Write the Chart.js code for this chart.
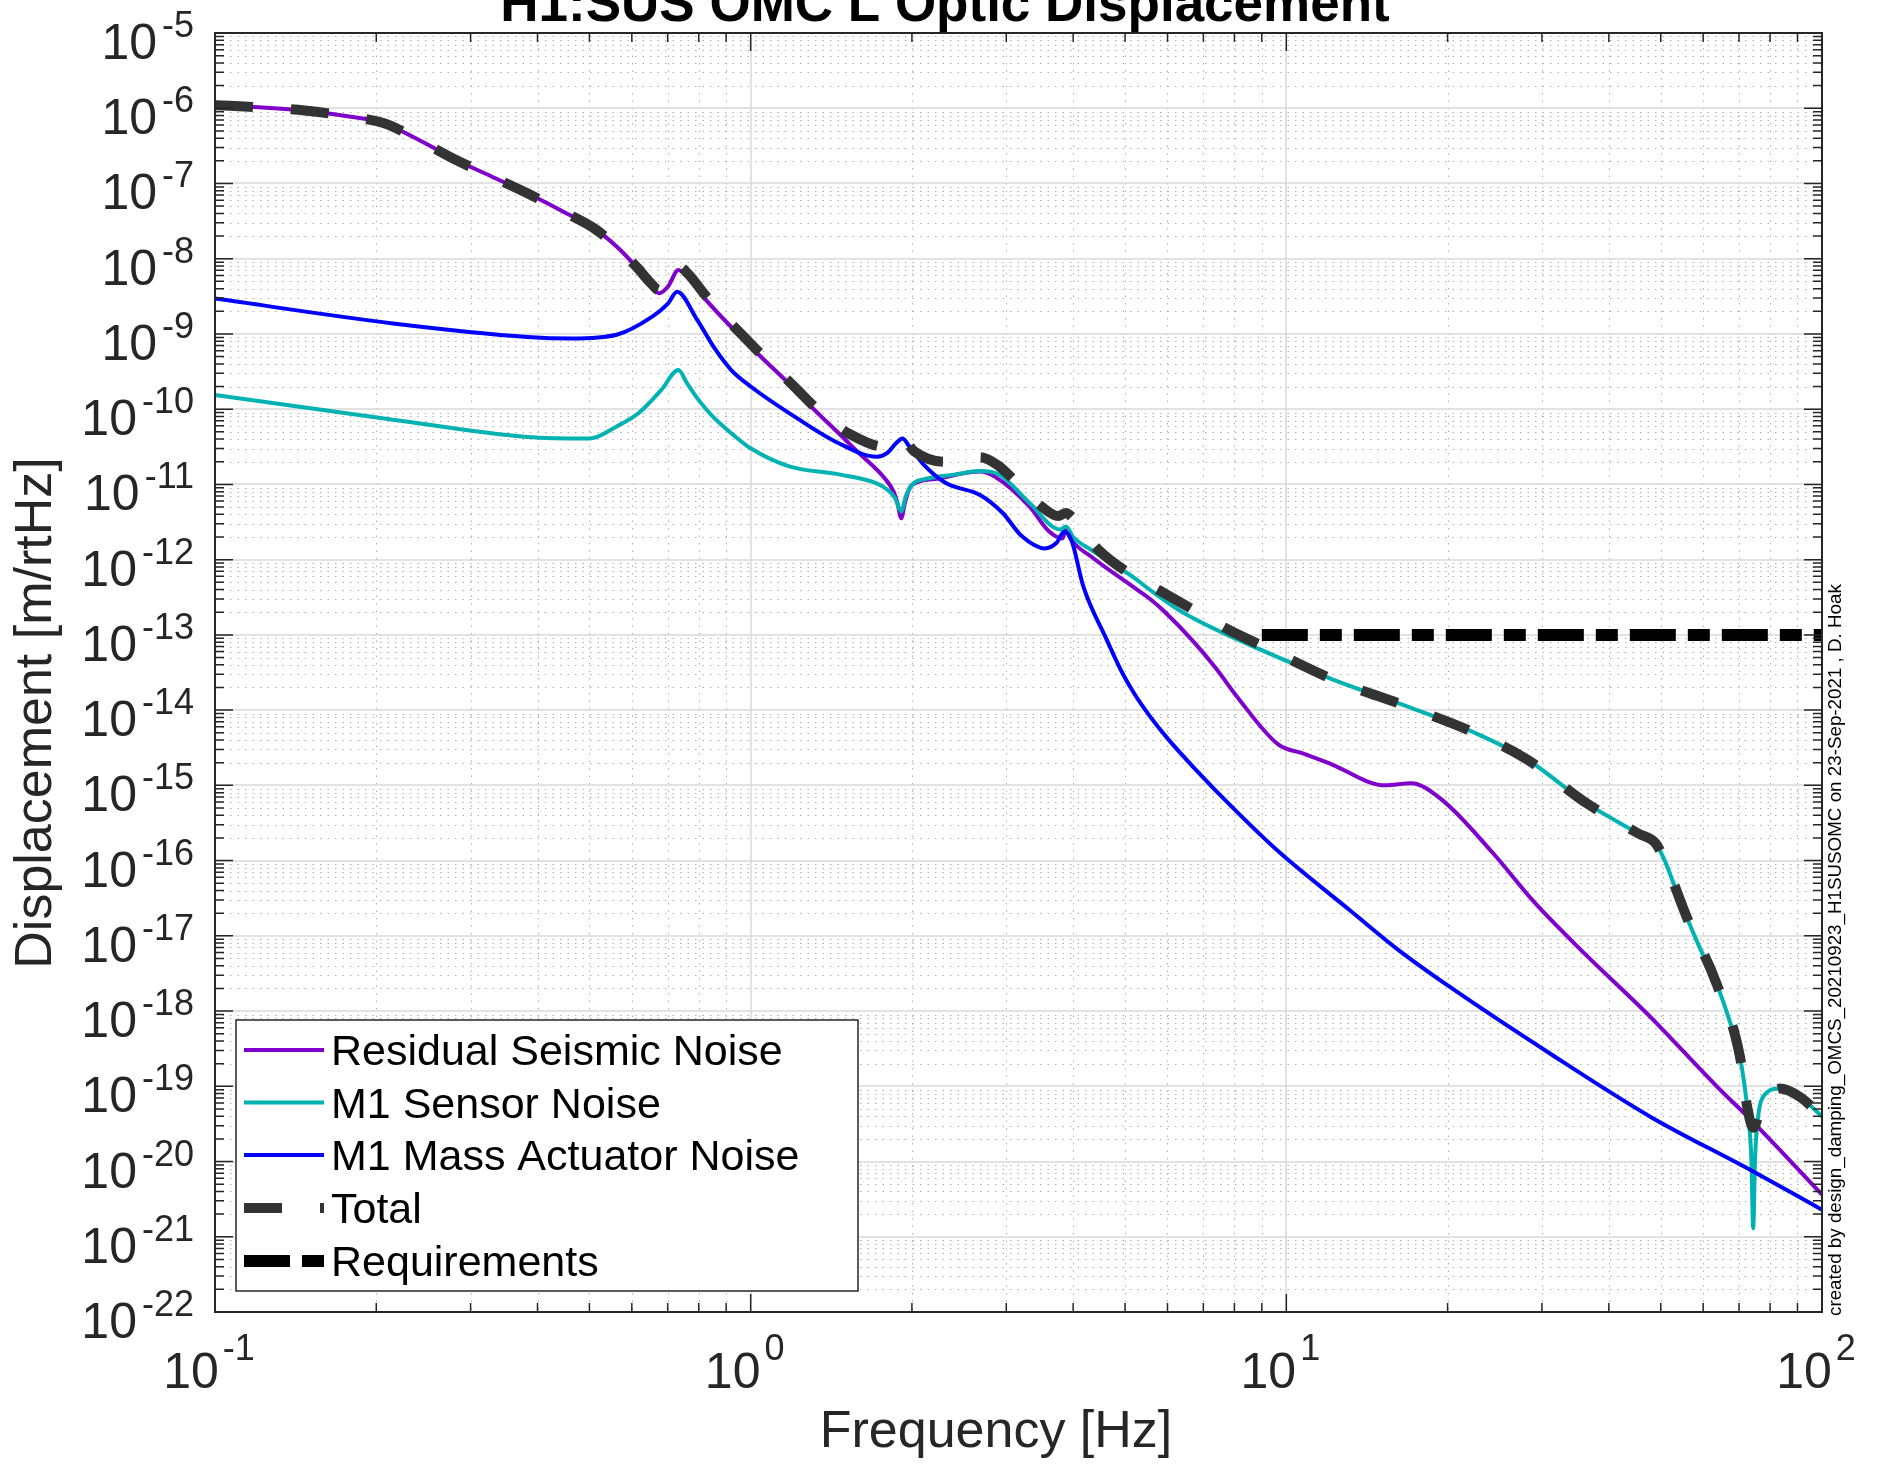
<!DOCTYPE html>
<html>
<head>
<meta charset="utf-8">
<title>H1:SUS OMC L Optic Displacement</title>
<script src="https://cdn.jsdelivr.net/npm/chart.js@4.4.1/dist/chart.umd.min.js"></script>
<style>
  html, body { margin: 0; padding: 0; background: #fff; }
  #wrap { width: 1881px; height: 1465px; }
</style>
</head>
<body>
<div id="wrap"><canvas id="dispChart" width="1881" height="1465"></canvas></div>
<script>
// values: frequency [Hz] and displacement [m/rtHz]
var seismicFreq = [0.1, 0.121, 0.147, 0.178, 0.207, 0.237, 0.282, 0.329, 0.383, 0.447, 0.51, 0.562,
  0.618, 0.65, 0.675, 0.701, 0.733, 0.764, 0.826, 1.0, 1.21, 1.32, 1.47, 1.58, 1.78, 1.85, 1.88, 1.91,
  1.94, 1.98, 2.05, 2.24, 2.68, 2.86, 3.32, 3.6, 3.82, 3.88, 3.95, 4.32, 5.17, 5.56, 5.9, 6.69, 7.4,
  8.05, 9.67, 10.8, 12.06, 15.3, 17.1, 19.5, 24.3, 29, 35.5, 47.7, 63.6, 74, 100];
var seismicVal = [1.10e-6, 1.03e-6, 9.33e-7, 7.76e-7, 6.31e-7, 3.98e-7, 2.05e-7, 1.23e-7, 7.41e-8, 4.22e-8, 2.54e-8, 1.45e-8,
  7.08e-9, 4.47e-9, 3.47e-9, 4.27e-9, 7.08e-9, 5.62e-9, 2.82e-9, 6.76e-10, 1.82e-10, 9.55e-11, 4.57e-11, 2.75e-11, 1.20e-11, 7.94e-12, 5.62e-12, 3.55e-12,
  5.62e-12, 8.91e-12, 1.07e-11, 1.20e-11, 1.48e-11, 1.26e-11, 5.01e-12, 2.40e-12, 1.91e-12, 2.51e-12, 1.91e-12, 1.10e-12, 4.37e-13, 3.02e-13, 2.09e-13, 8.32e-14, 3.55e-14,
  1.58e-14, 3.47e-15, 2.63e-15, 1.95e-15, 1.00e-15, 1.07e-15, 6.46e-16, 1.26e-16, 2.82e-17, 6.46e-18, 8.51e-19, 1.00e-19, 3.47e-20, 3.63e-21];

var sensorFreq = [0.1, 0.215, 0.383, 0.5, 0.562, 0.618, 0.681, 0.733, 0.76, 0.8, 0.85, 0.92, 1.0, 1.18, 1.47,
  1.71, 1.8, 1.86, 1.91, 1.95, 2.02, 2.11, 2.4, 2.68, 2.91, 3.32, 3.78, 3.88, 4.0, 4.32, 5.17, 5.56, 6.4,
  8.97, 12.29, 16.8, 22.6, 28.2, 36.4, 45.4, 48.9, 50.8, 52.5, 55.9, 58.8, 63.5, 67, 70.3, 72.8, 73.8,
  74.4, 75.0, 76.0, 77.6, 83.4, 90.9, 100];
var sensorVal = [1.55e-10, 7.24e-11, 4.27e-11, 4.07e-11, 5.89e-11, 8.91e-11, 1.80e-10, 3.31e-10, 2.24e-10, 1.32e-10, 7.94e-11, 4.79e-11, 3.02e-11, 1.74e-11, 1.35e-11,
  1.05e-11, 8.51e-12, 6.61e-12, 4.37e-12, 7.08e-12, 1.05e-11, 1.17e-11, 1.35e-11, 1.51e-11, 1.35e-11, 5.62e-12, 2.51e-12, 2.75e-12, 2.00e-12, 1.35e-12, 5.89e-13, 3.98e-13, 2.00e-13,
  6.31e-14, 2.51e-14, 1.12e-14, 4.90e-15, 2.19e-15, 5.75e-16, 2.29e-16, 1.70e-16, 1.02e-16, 5.62e-17, 1.78e-17, 7.59e-18, 2.34e-18, 7.94e-19, 2.45e-19, 3.98e-20, 1.12e-20,
  1.29e-21, 1.12e-20, 3.98e-20, 7.24e-20, 9.33e-20, 7.24e-20, 3.98e-20];

var actuatorFreq = [0.1, 0.215, 0.383, 0.464, 0.562, 0.655, 0.70, 0.729, 0.794, 0.858, 0.92, 1.0, 1.22, 1.457,
  1.72, 1.8, 1.87, 1.92, 1.98, 2.093, 2.31, 2.68, 2.955, 3.21, 3.54, 3.72, 3.85, 3.97, 4.18, 4.61, 4.92,
  5.2, 5.56, 6.0, 6.69, 8.0, 9.67, 13.14, 16.2, 20.2, 31.0, 47.7, 73.4, 100];
var actuatorVal = [2.95e-9, 1.38e-9, 9.12e-10, 8.71e-10, 9.77e-10, 1.70e-9, 2.51e-9, 3.63e-9, 1.55e-9, 6.31e-10, 3.31e-10, 2.00e-10, 7.59e-11, 3.55e-11,
  2.34e-11, 2.63e-11, 3.55e-11, 4.07e-11, 3.16e-11, 1.91e-11, 1.05e-11, 7.24e-12, 4.17e-12, 2.04e-12, 1.41e-12, 1.66e-12, 2.34e-12, 1.82e-12, 4.37e-13, 8.91e-14, 3.31e-14,
  1.66e-14, 8.32e-15, 4.21e-15, 1.78e-15, 4.79e-16, 1.32e-16, 2.19e-17, 6.46e-18, 2.09e-18, 2.75e-19, 3.98e-20, 7.76e-21, 2.29e-21];

var totalFreq = [0.1, 0.121, 0.147, 0.178, 0.207, 0.237, 0.282, 0.329, 0.383, 0.447, 0.51, 0.562, 0.618,
  0.65, 0.675, 0.701, 0.733, 0.764, 0.826, 1.0, 1.21, 1.32, 1.47, 1.52, 1.78, 1.92, 2.02, 2.3, 2.68, 2.9,
  3.1, 3.5, 3.75, 3.88, 3.97, 4.2, 4.46, 5.08, 5.9, 6.75, 7.8, 9.1, 12.29, 16.8, 22.6, 28.2, 36.4, 45.4,
  48.9, 50.8, 55.9, 63.5, 70.3, 72.4, 74.4, 77.2, 83.4, 90.9, 100];
var totalVal = [1.10e-6, 1.03e-6, 9.33e-7, 7.76e-7, 6.31e-7, 3.98e-7, 2.05e-7, 1.23e-7, 7.41e-8, 4.22e-8, 2.54e-8, 1.45e-8, 7.24e-9,
  4.79e-9, 3.80e-9, 5.01e-9, 7.94e-9, 6.31e-9, 3.16e-9, 7.41e-10, 1.95e-10, 1.05e-10, 5.62e-11, 4.79e-11, 3.16e-11, 4.07e-11, 2.75e-11, 2.00e-11, 2.29e-11, 1.78e-11,
  1.15e-11, 5.01e-12, 3.80e-12, 4.17e-12, 3.72e-12, 2.24e-12, 1.35e-12, 6.61e-13, 3.63e-13, 2.09e-13, 1.17e-13, 6.92e-14, 2.51e-14, 1.12e-14, 4.90e-15, 2.19e-15, 5.75e-16, 2.29e-16,
  1.70e-16, 1.02e-16, 1.78e-17, 2.34e-18, 2.45e-19, 5.62e-20, 2.82e-20, 5.62e-20, 9.33e-20, 7.24e-20, 3.98e-20];

var reqFreq = [9, 100];
var reqVal = [1e-13, 1e-13];

// tick decades (labels are drawn as 10^n)
var xDecades = [-1, 0, 1, 2];
var yDecades = [-22, -21, -20, -19, -18, -17, -16, -15, -14, -13, -12, -11, -10, -9, -8, -7, -6, -5];

var seriesNames = ['Residual Seismic Noise', 'M1 Sensor Noise', 'M1 Mass Actuator Noise', 'Total', 'Requirements'];

function pairs(fs, vs) {
  return fs.map(function (f, i) { return { x: f, y: vs[i] }; });
}

var FONT = '"Liberation Sans", Arial, Helvetica, sans-serif';
var INK = '#262626';
var BASE_PX = 50, EXP_PX = 36;

// MATLAB-looking axes: grid, box, inward ticks, 10^n labels, legend, notes
var matlabAxes = {
  id: 'matlabAxes',
  beforeDatasetsDraw: function (chart) {
    var ctx = chart.ctx, a = chart.chartArea, xs = chart.scales.x, ys = chart.scales.y;
    ctx.save();
    ctx.lineWidth = 1;
    // minor grid (dotted)
    ctx.strokeStyle = '#b0b0b0';
    ctx.setLineDash([1.5, 6]);
    xDecades.slice(0, -1).forEach(function (d) {
      for (var m = 2; m <= 9; m++) {
        var px = Math.round(xs.getPixelForValue(m * Math.pow(10, d))) + 0.5;
        ctx.beginPath(); ctx.moveTo(px, a.top); ctx.lineTo(px, a.bottom); ctx.stroke();
      }
    });
    yDecades.slice(0, -1).forEach(function (d) {
      for (var m = 2; m <= 9; m++) {
        var py = Math.round(ys.getPixelForValue(m * Math.pow(10, d))) + 0.5;
        ctx.beginPath(); ctx.moveTo(a.left, py); ctx.lineTo(a.right, py); ctx.stroke();
      }
    });
    // major grid (solid)
    ctx.setLineDash([]);
    ctx.strokeStyle = '#d9d9d9';
    ctx.lineWidth = 1.5;
    xDecades.forEach(function (d) {
      var px = Math.round(xs.getPixelForValue(Math.pow(10, d)));
      ctx.beginPath(); ctx.moveTo(px, a.top); ctx.lineTo(px, a.bottom); ctx.stroke();
    });
    yDecades.forEach(function (d) {
      var py = Math.round(ys.getPixelForValue(Math.pow(10, d)));
      ctx.beginPath(); ctx.moveTo(a.left, py); ctx.lineTo(a.right, py); ctx.stroke();
    });
    ctx.restore();
  },
  afterDatasetsDraw: function (chart) {
    var ctx = chart.ctx, a = chart.chartArea, xs = chart.scales.x, ys = chart.scales.y;
    ctx.save();

    // inward tick marks on all four sides
    ctx.strokeStyle = INK;
    ctx.lineWidth = 1.5;
    function xTick(px, len) {
      ctx.beginPath();
      ctx.moveTo(px, a.bottom); ctx.lineTo(px, a.bottom - len);
      ctx.moveTo(px, a.top); ctx.lineTo(px, a.top + len);
      ctx.stroke();
    }
    function yTick(py, len) {
      ctx.beginPath();
      ctx.moveTo(a.left, py); ctx.lineTo(a.left + len, py);
      ctx.moveTo(a.right, py); ctx.lineTo(a.right - len, py);
      ctx.stroke();
    }
    xDecades.forEach(function (d, i) {
      xTick(xs.getPixelForValue(Math.pow(10, d)), 18);
      if (i < xDecades.length - 1) {
        for (var m = 2; m <= 9; m++) xTick(xs.getPixelForValue(m * Math.pow(10, d)), 9);
      }
    });
    yDecades.forEach(function (d, i) {
      yTick(ys.getPixelForValue(Math.pow(10, d)), 18);
      if (i < yDecades.length - 1) {
        for (var m = 2; m <= 9; m++) yTick(ys.getPixelForValue(m * Math.pow(10, d)), 9);
      }
    });

    // axes box
    ctx.lineWidth = 2;
    ctx.strokeRect(a.left, a.top, a.right - a.left, a.bottom - a.top);

    // tick labels 10^n
    ctx.fillStyle = INK;
    ctx.textBaseline = 'alphabetic';
    yDecades.forEach(function (d) {
      var py = ys.getPixelForValue(Math.pow(10, d));
      var e = String(d);
      ctx.textAlign = 'right';
      ctx.font = EXP_PX + 'px ' + FONT;
      var ew = ctx.measureText(e).width;
      ctx.fillText(e, 194, py + 4);
      ctx.font = BASE_PX + 'px ' + FONT;
      ctx.fillText('10', 194 - ew - 5, py + 26);
    });
    xDecades.forEach(function (d) {
      var px = xs.getPixelForValue(Math.pow(10, d));
      var e = String(d);
      ctx.textAlign = 'left';
      ctx.font = BASE_PX + 'px ' + FONT;
      var bw = ctx.measureText('10').width;
      ctx.font = EXP_PX + 'px ' + FONT;
      var ew = ctx.measureText(e).width;
      var left = px - (bw + 4 + ew) / 2 - 6;
      ctx.font = BASE_PX + 'px ' + FONT;
      ctx.fillText('10', left, 1388);
      ctx.font = EXP_PX + 'px ' + FONT;
      ctx.fillText(e, left + bw + 4, 1360);
    });

    // axis titles
    ctx.font = '52px ' + FONT;
    ctx.textAlign = 'center';
    ctx.fillText('Frequency [Hz]', 996, 1447);
    ctx.save();
    ctx.translate(51, 713);
    ctx.rotate(-Math.PI / 2);
    ctx.fillText('Displacement [m/rtHz]', 0, 0);
    ctx.restore();

    // title (top of it runs off the figure)
    ctx.fillStyle = '#000';
    ctx.font = 'bold 53px ' + FONT;
    ctx.fillText('H1:SUS OMC L Optic Displacement', 945, 21);

    // side note
    ctx.save();
    ctx.translate(1841, 1316);
    ctx.rotate(-Math.PI / 2);
    ctx.textAlign = 'left';
    ctx.font = '18.8px ' + FONT;
    ctx.fillText('created by design_damping_OMCS_20210923_H1SUSOMC on 23-Sep-2021 , D. Hoak', 0, 0);
    ctx.restore();

    // legend box
    var lx = 236, ly = 1020, lw = 622, lh = 271;
    ctx.fillStyle = '#fff';
    ctx.fillRect(lx, ly, lw, lh);
    ctx.strokeStyle = INK;
    ctx.lineWidth = 1.5;
    ctx.strokeRect(lx, ly, lw, lh);
    var rowY = [1050, 1102.5, 1155, 1208, 1261];
    chart.data.datasets.forEach(function (ds, i) {
      var cy = rowY[i];
      ctx.save();
      ctx.strokeStyle = ds.borderColor;
      ctx.lineWidth = ds.borderWidth;
      ctx.setLineDash(ds.borderDash || []);
      ctx.beginPath(); ctx.moveTo(244, cy); ctx.lineTo(324, cy); ctx.stroke();
      ctx.restore();
      ctx.fillStyle = '#000';
      ctx.textAlign = 'left';
      ctx.font = '43px ' + FONT;
      ctx.fillText(ds.label, 331, cy + 15);
    });

    ctx.restore();
  }
};

var ctx = document.getElementById('dispChart').getContext('2d');

var dispChart = new Chart(ctx, {
  type: 'line',
  data: {
    datasets: [
      {
        label: seriesNames[0],
        data: pairs(seismicFreq, seismicVal),
        borderColor: '#7f00cc', // purple
        borderWidth: 4,
        order: 4
      },
      {
        label: seriesNames[1],
        data: pairs(sensorFreq, sensorVal),
        borderColor: '#00b2b2', // teal
        borderWidth: 4,
        order: 3
      },
      {
        label: seriesNames[2],
        data: pairs(actuatorFreq, actuatorVal),
        borderColor: '#0000ff',
        borderWidth: 4,
        order: 2
      },
      {
        label: seriesNames[3],
        data: pairs(totalFreq, totalVal),
        borderColor: '#333333',
        borderWidth: 10,
        borderDash: [38, 38],
        order: 1
      },
      {
        label: seriesNames[4],
        data: pairs(reqFreq, reqVal),
        borderColor: '#000000',
        borderWidth: 12,
        borderDash: [46, 12, 22, 12],
        order: 0
      }
    ]
  },
  options: {
    responsive: false,
    animation: false,
    devicePixelRatio: 1,
    layout: { padding: { left: 215, top: 33, right: 59, bottom: 153 } },
    elements: {
      point: { radius: 0, hoverRadius: 0 },
      line: { cubicInterpolationMode: 'monotone', fill: false, borderCapStyle: 'butt' }
    },
    plugins: {
      legend: { display: false },
      tooltip: { enabled: false }
    },
    scales: {
      x: { type: 'logarithmic', min: 0.1, max: 100, display: false },
      y: { type: 'logarithmic', min: 1e-22, max: 1e-5, display: false }
    }
  },
  plugins: [matlabAxes]
});
</script>
</body>
</html>
